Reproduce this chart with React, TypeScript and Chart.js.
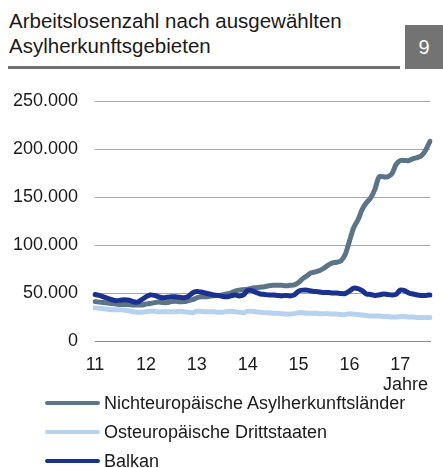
import React, { useEffect, useRef } from "react";
import { Chart, registerables } from "chart.js";

Chart.register(...registerables);

const YEARS = ["11", "12", "13", "14", "15", "16", "17"];
const MONTH_COUNT = 80;

const NICHTEURO = [
  41000, 40500, 40000, 39500, 39000, 38500, 38000, 38000, 38000, 37500, 37500, 37500,
  38500, 39000, 40000, 40500, 40000, 40000, 41000, 41500, 41000, 41000, 42000, 43000,
  45000, 46000, 46000, 46500, 47000, 47500, 48000, 49000, 50000, 52000, 53000, 53500,
  54000, 55000, 55500, 56000, 56500, 57500, 58000, 58000, 58000, 57500, 58000, 58500,
  61000, 65000, 68000, 71000, 72000, 73500, 76000, 79000, 81500, 82000, 83500, 90000,
  104000, 118000, 126000, 137000, 144000, 149000, 158000, 171000, 171000, 171000, 174000, 184000,
  188000, 188000, 188000, 190000, 191000, 193000, 199000, 208000,
];

const OSTEURO = [
  34500, 34000, 33500, 33000, 32500, 32500, 32500, 32000, 31500, 30500, 30000, 30000,
  30500, 31000, 31000, 30500, 30500, 30500, 30500, 30500, 31000, 30500, 30000, 29500,
  31000, 31000, 30500, 30500, 30500, 30000, 30000, 30500, 31000, 30500, 30000, 29500,
  31000, 31000, 30500, 30000, 29500, 29500, 29000, 29000, 28500, 28000, 28000, 28500,
  29500, 29500, 29000, 29000, 29000, 28500, 28500, 28500, 28000, 28000, 27500, 27500,
  28500, 28000, 27500, 27000, 26500, 26000, 26000, 26000, 25500, 25500, 25000, 25000,
  25500, 25500, 25000, 25000, 24500, 24500, 24500, 24500,
];

const BALKAN = [
  48500, 47500, 46000, 44500, 43000, 42000, 42500, 43000, 42500, 41000, 40500, 43000,
  46000, 48000, 47500, 46000, 45000, 45500, 46000, 46000, 45500, 45000, 46500, 50000,
  51500, 51000, 50000, 49000, 48000, 47500, 46500, 46000, 47000, 48000, 47000, 48000,
  52500, 52500, 50500, 49000, 48500, 48000, 48000, 47500, 47000, 47500, 47000, 48000,
  52000, 53000, 53000, 52000, 51500, 51000, 50500, 50500, 50000, 50000, 49500, 49500,
  52000, 55000, 54500, 52500, 49000, 48500, 47500, 48000, 49000, 48500, 48000, 48500,
  53000, 52500, 50000, 49000, 48000, 47500, 47500, 48000,
];

const SERIES_NAMES = [
  "Nichteuropäische Asylherkunftsländer",
  "Osteuropäische Drittstaaten",
  "Balkan",
];
const COLORS = ["#5b7488", "#b5d3f1", "#1b3190"];

const TITLE_LINES = ["Arbeitslosenzahl nach ausgewählten", "Asylherkunftsgebieten"];
const PAGE_NUMBER = "9";
const X_TITLE = "Jahre";

const FONT = '"Liberation Sans", Arial, sans-serif';

function formatDE(v: number): string {
  const s = Math.round(v).toString();
  return s.replace(/\B(?=(\d{3})+(?!\d))/g, ".");
}

export default function App() {
  const canvasRef = useRef<HTMLCanvasElement | null>(null);

  useEffect(() => {
    const labels: string[] = [];
    for (let i = 0; i < MONTH_COUNT; i++) {
      labels.push(i % 12 === 0 ? YEARS[i / 12] : "");
    }
    const canvas = canvasRef.current;
    if (!canvas) return;
    const seriesData = [NICHTEURO, OSTEURO, BALKAN];
    const orders = [1, 2, 0];
    const chart = new Chart(canvas, {
      type: "line",
      data: {
        labels,
        datasets: seriesData.map((d, i) => ({
          label: SERIES_NAMES[i],
          data: d,
          borderColor: COLORS[i],
          borderWidth: 5,
          pointRadius: 0,
          tension: 0.3,
          order: orders[i],
          borderCapStyle: "round" as const,
          borderJoinStyle: "round" as const,
        })),
      },
      options: {
        responsive: false,
        maintainAspectRatio: false,
        animation: false,
        devicePixelRatio: 1,
        layout: { padding: { left: 0, right: 0, top: 101, bottom: 87 } },
        plugins: { legend: { display: false }, tooltip: { enabled: false } },
        scales: {
          x: {
            type: "category",
            grid: { display: false, drawTicks: false },
            border: { display: true, color: "#8c8c8c", width: 1 },
            ticks: {
              autoSkip: false,
              maxRotation: 0,
              minRotation: 0,
              padding: 13,
              color: "#1a1a1a",
              font: { family: FONT, size: 18 },
            },
            afterFit: (scale: any) => {
              scale.height = 40;
            },
          },
          y: {
            min: 0,
            max: 250000,
            grid: {
              drawTicks: false,
              color: (ctx: any) => (ctx.tick && ctx.tick.value === 0 ? "#8c8c8c" : "#a8a8a8"),
              lineWidth: 1,
            },
            border: { display: false },
            ticks: {
              stepSize: 50000,
              padding: 17,
              color: "#1a1a1a",
              font: { family: FONT, size: 18 },
              callback: (v: any) => formatDE(Number(v)),
            },
            afterFit: (scale: any) => {
              scale.width = 95;
            },
          },
        },
      },
    });
    return () => chart.destroy();
  }, []);

  return (
    <div
      style={{
        position: "fixed",
        left: 0,
        top: 0,
        width: 443,
        height: 468,
        background: "#ffffff",
        overflow: "hidden",
        fontFamily: FONT,
        color: "#1a1a1a",
      }}
    >
      {TITLE_LINES.map((t, i) => (
        <div
          key={i}
          style={{
            position: "absolute",
            left: 9,
            top: 8 + i * 25,
            fontSize: 20.5,
            lineHeight: "25px",
            whiteSpace: "nowrap",
          }}
        >
          {t}
        </div>
      ))}
      <div
        style={{
          position: "absolute",
          left: 8,
          top: 66,
          width: 392,
          height: 3,
          background: "#707070",
        }}
      />
      <div
        style={{
          position: "absolute",
          left: 405,
          top: 25,
          width: 38,
          height: 44,
          background: "#737373",
          color: "#ffffff",
          fontSize: 20,
          lineHeight: "44px",
          textAlign: "center",
        }}
      >
        {PAGE_NUMBER}
      </div>
      <canvas
        ref={canvasRef}
        width={443}
        height={468}
        style={{ position: "absolute", left: 0, top: 0, width: 443, height: 468 }}
      />
      <div
        style={{
          position: "absolute",
          left: 383,
          top: 374,
          fontSize: 18,
          lineHeight: "20px",
          whiteSpace: "nowrap",
        }}
      >
        {X_TITLE}
      </div>
      {SERIES_NAMES.map((name, i) => (
        <div
          key={name}
          style={{
            position: "absolute",
            left: 45,
            top: 393 + i * 29,
            height: 20,
            display: "flex",
            alignItems: "center",
            whiteSpace: "nowrap",
          }}
        >
          <div
            style={{
              width: 55,
              height: 4.5,
              borderRadius: 2,
              background: COLORS[i],
              marginRight: 4,
            }}
          />
          <span style={{ fontSize: 18, lineHeight: "20px" }}>{name}</span>
        </div>
      ))}
    </div>
  );
}
